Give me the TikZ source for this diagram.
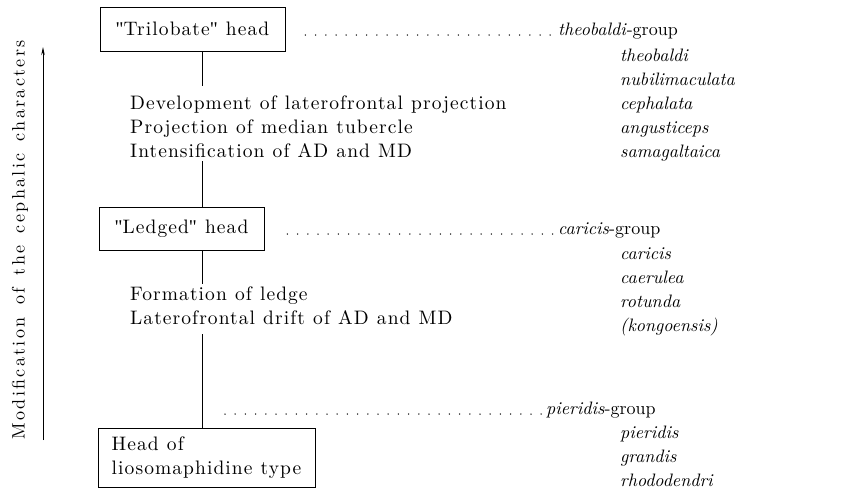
\documentclass[tikz,border=0pt]{standalone}
\usepackage{fontspec}
\setmainfont{lmroman10-regular.otf}[ItalicFont=lmroman10-italic.otf, BoldFont=lmroman10-bold.otf]
\usepackage{tikz}
\usetikzlibrary{positioning}
\usetikzlibrary{arrows.meta}

\newfontfamily\quotefont{Liberation Serif}
\newcommand{\wide}{\addfontfeatures{LetterSpace=5.5}\spaceskip=0.42em plus 0.1em\relax}
\newcommand{\wider}{\addfontfeatures{LetterSpace=13}\spaceskip=0.7em plus 0.1em\relax}
\newcommand{\dq}{{\quotefont"}}

\begin{document}
\begin{tikzpicture}[x=1pt,y=-1pt]
    \tikzset{Head/.style={rectangle, draw, line width=0.8pt, inner sep=0pt, font=\fontsize{19.5}{24.5}\selectfont\wide}};
    \tikzset{Change/.style={inner sep=0pt, align=left, font=\fontsize{19.5}{24}\selectfont\wide}};
    \tikzset{Group/.style={inner sep=0pt, anchor=base west, font=\fontsize{18}{24}\selectfont}};
    \tikzset{Species/.style={inner sep=0pt, anchor=base west, font=\fontsize{18}{24}\selectfont\itshape}};
    \tikzset{Leader/.style={line width=1.5pt, line cap=round, dash pattern=on 0pt off 10.2pt}};
    \useasboundingbox (0,0) rectangle (851,496);
    \coordinate (spine) at (202,0);
    % heads and changes
    \node[Head, minimum width=185pt, minimum height=44pt] (tri) at (192.5,29) {\dq Trilobate\dq\ head};
    \node[Change, anchor=west] (dev) at (130,127) {Development of laterofrontal projection\\Projection of median tubercle\\Intensification of AD and MD};
    \node[Head, minimum width=165pt, minimum height=43pt] (ledge) at (181.5,228.5) {\dq Ledged\dq\ head};
    \node[Change, anchor=west] (form) at (130,306) {Formation of ledge\\Laterofrontal drift of AD and MD};
    \node[Head, align=left, minimum width=217pt, minimum height=59pt] (lioso) at (206.5,457.5) {Head of\\liosomaphidine type};
    \draw[line width=0.8pt, shorten >=10pt] (tri.south -| spine) -- (dev.north -| spine);
    \draw[line width=0.8pt, shorten <=3pt] (dev.south -| spine) -- (ledge.north -| spine);
    \draw[line width=0.8pt, shorten >=3pt] (ledge.south -| spine) -- (form.north -| spine);
    \draw[line width=0.8pt, shorten <=9pt] (form.south -| spine) -- (lioso.north -| spine);
    % groups
    \node[Group] (grpA) at (558,35) {\textit{theobaldi}-group};
    \node[Group] (grpB) at (558,234) {\textit{caricis}-group};
    \node[Group] (grpC) at (546,414) {\textit{pieridis}-group};
    \foreach \sp [count=\i] in {theobaldi, nubilimaculata, cephalata, angusticeps, samagaltaica}
        \node[Species] (a\i) at (620,37+24*\i) {\sp};
    \foreach \sp [count=\i] in {caricis, caerulea, rotunda, (kongoensis)}
        \node[Species] (b\i) at (620,235+24*\i) {\sp};
    \foreach \sp [count=\i] in {pieridis, grandis, rhododendri}
        \node[Species] (c\i) at (620,414+24*\i) {\sp};
    \draw[Leader] ([xshift=20pt]tri.east |- grpA.base) -- ([xshift=-3pt]grpA.base west);
    \draw[Leader] ([xshift=23pt]ledge.east |- grpB.base) -- ([xshift=-3pt]grpB.base west);
    \draw[Leader] ([xshift=23pt]spine |- grpC.base) -- ([xshift=-3pt]grpC.base west);
    % axis
    \coordinate (up) at (43,47);
    \coordinate (down) at (43,440);
    \draw[line width=0.8pt, -{Stealth[length=8pt,width=3.5pt]}] (down) -- (up);
    \node[rotate=90, inner sep=0pt, font=\fontsize{18}{24}\selectfont\wider] (axis) at (20,240) {Modification of the cephalic characters};
\end{tikzpicture}
\end{document}
